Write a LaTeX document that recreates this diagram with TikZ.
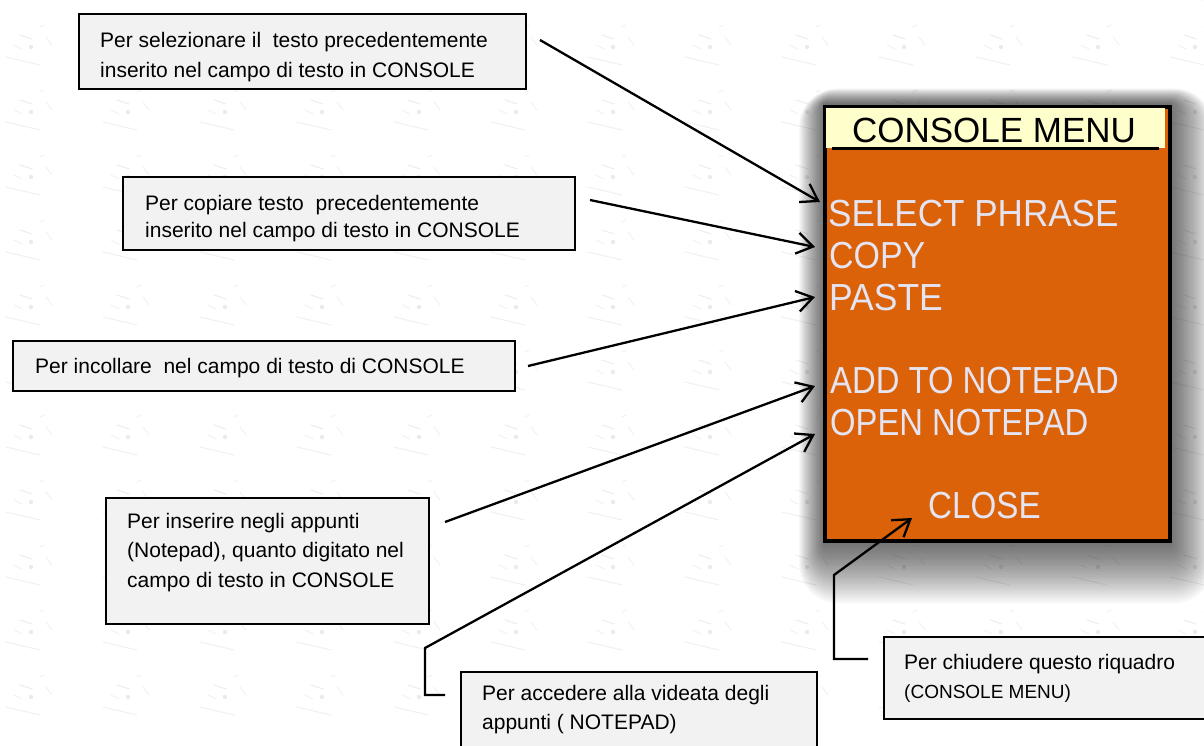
\documentclass[tikz,border=0pt]{standalone}
\usepackage{fontspec}
\setmainfont{Liberation Sans}
\usetikzlibrary{arrows.meta}
\definecolor{menuorange}{RGB}{219,98,8}
\definecolor{menuyellow}{RGB}{255,255,204}
\definecolor{menutext}{RGB}{228,228,242}
\definecolor{calloutfill}{RGB}{242,242,242}
\newcommand\mytxt[2]{\parbox[t]{470pt}{\fontsize{21}{#1}\selectfont #2}}
\newcommand\mymi[2]{\scalebox{#1}[1]{\fontsize{37.7}{38}\selectfont #2}}
\begin{document}
\begin{tikzpicture}[x=1pt,y=-1pt,
  callout/.style={draw=black, line width=2.2pt, fill=calloutfill, anchor=north west, inner sep=0pt},
  calltext/.style={anchor=base west, inner sep=0pt},
  menuitem/.style={anchor=base west, inner sep=0pt, text=menutext},
  pointer/.style={line width=2.3pt, line join=miter, -{Straight Barb[length=16pt,width=21pt,line width=2.3pt]}},
  wmark/.style={draw=black!7, line width=1pt, line cap=round},
  ]
\path[use as bounding box, clip] (0,0) rectangle (1204,745);
\fill[white] (0,0) rectangle (1204,745);

% faint background watermark
\foreach \i in {0,...,12}{
  \foreach \j in {0,...,11}{
    \begin{scope}[shift={(28+97*\i,-32+65*\j)}]
      \draw[wmark] (-8,2) -- (4,6);
      \fill[black!8] (3,14) circle (2.2pt);
      \draw[wmark, draw=black!6] (-22,24) -- (12,32);
      \draw[wmark, draw=black!5] (12,-6) -- (16,-8) (18,4) -- (24,12) (-14,12) -- (-6,16);
    \end{scope}
  }
}

% shadow of the console menu
\foreach \k in {1,...,26}{
  \fill[black, opacity=0.026, rounded corners=1.5*\k pt]
    (825-1.0*\k,104-0.6*\k) rectangle (1169+1.7*\k,541+2.4*\k);
}

% console menu
\node[draw=black, line width=4pt, fill=menuorange, anchor=north west, minimum width=345pt, minimum height=434pt, inner sep=0pt] (menu) at (823,105) {};
\node[fill=menuyellow, anchor=north west, minimum width=339pt, minimum height=40pt, inner sep=0pt] (hdr) at (826,108) {};
\draw[line width=3pt] (832,148) -- (1159,148);
\node[anchor=base, inner sep=0pt, font=\fontsize{35}{35}\selectfont] (title) at (994,142) {CONSOLE MENU};
\node[menuitem] (m1) at (828,226) {\mymi{0.93}{SELECT PHRASE}};
\node[menuitem] (m2) at (829,268) {\mymi{0.90}{COPY}};
\node[menuitem] (m3) at (829,310) {\mymi{0.94}{PASTE}};
\node[menuitem] (m4) at (830,393) {\mymi{0.87}{ADD TO NOTEPAD}};
\node[menuitem] (m5) at (830,435) {\mymi{0.87}{OPEN NOTEPAD}};
\node[menuitem] (m6) at (928,518) {\mymi{0.88}{CLOSE}};

% callouts
\node[callout, minimum width=447pt, minimum height=75pt] (b1) at (78,13) {};
\node[calltext] (c1) at (100,47) {\mytxt{30}{Per selezionare il\ \ testo precedentemente\\inserito nel campo di testo in CONSOLE}};
\node[callout, minimum width=452pt, minimum height=73pt] (b2) at (122,176) {};
\node[calltext] (c2) at (145,210) {\mytxt{27}{Per copiare testo\ \ precedentemente\\inserito nel campo di testo in CONSOLE}};
\node[callout, minimum width=502pt, minimum height=50pt] (b3) at (12,340) {};
\node[calltext] (c3) at (35,373) {\mytxt{27}{Per incollare\ \ nel campo di testo di CONSOLE}};
\node[callout, minimum width=323pt, minimum height=126pt] (b4) at (105,497) {};
\node[calltext] (c4) at (127,528) {\mytxt{29.5}{Per inserire negli appunti\\(Notepad), quanto digitato nel\\campo di testo in CONSOLE}};
\node[callout, minimum width=356pt, minimum height=90pt] (b5) at (460,671) {};
\node[calltext] (c5) at (482,700) {\mytxt{29}{Per accedere alla videata degli\\appunti ( NOTEPAD)}};
\node[callout, minimum width=335pt, minimum height=82pt] (b6) at (883,636) {};
\node[calltext] (c6) at (904,669) {\mytxt{29}{Per chiudere questo riquadro\\{\fontsize{19}{29}\selectfont (CONSOLE MENU)}}};

% connector coordinates
\coordinate (s1) at (540,40);   \coordinate (t1) at (820,202);
\coordinate (s2) at (590,200);  \coordinate (t2) at (815,247);
\coordinate (s3) at (528,366);  \coordinate (t3) at (815,297);
\coordinate (s4) at (445,522);  \coordinate (t4) at (815,386);
\coordinate (s5) at (445,695);  \coordinate (e5a) at (425,695); \coordinate (e5b) at (425,648); \coordinate (t5) at (815,434);
\coordinate (s6) at (868,659);  \coordinate (e6a) at (834,659); \coordinate (e6b) at (834,575); \coordinate (t6) at (912,518);

\draw[pointer] (s1) -- (t1);
\draw[pointer] (s2) -- (t2);
\draw[pointer] (s3) -- (t3);
\draw[pointer] (s4) -- (t4);
\draw[pointer] (s5) -- (e5a) -- (e5b) -- (t5);
\draw[pointer] (s6) -- (e6a) -- (e6b) -- (t6);
\end{tikzpicture}
\end{document}
